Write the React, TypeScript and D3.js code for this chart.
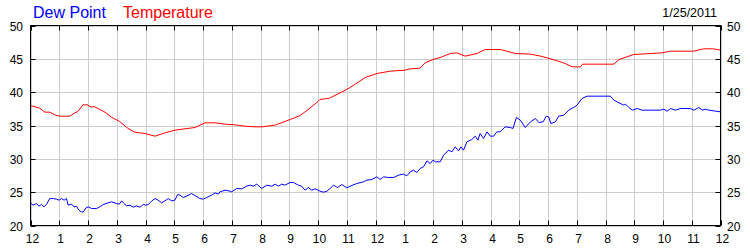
import React from "react";
import * as d3 from "d3";

const hourLabels = ["12","1","2","3","4","5","6","7","8","9","10","11","12","1","2","3","4","5","6","7","8","9","10","11","12"];
const yTicks = [20, 25, 30, 35, 40, 45, 50];

const tempHours = [0,0.32,0.5,0.67,0.85,1.02,1.37,1.54,1.65,1.82,2.0,2.06,2.24,2.59,2.83,3.1,3.38,3.62,3.98,4.33,4.68,5.03,5.37,5.72,6.07,6.42,6.77,7.11,7.46,7.81,8.05,8.5,8.85,9.03,9.38,9.72,10.0,10.07,10.4,11.0,11.3,11.64,12.05,12.51,13.03,13.2,13.55,13.73,14.0,14.25,14.6,14.83,15.12,15.53,15.82,16.35,16.86,17.4,17.75,18.25,18.6,18.84,19.13,19.2,20.29,20.47,20.98,21.97,22.26,23.07,23.42,23.76,24];
const tempValues = [38.0,37.6,37.0,37.0,36.6,36.4,36.4,36.9,37.1,38.1,38.1,37.8,37.8,37.0,36.2,35.6,34.6,34.0,33.8,33.4,33.9,34.3,34.5,34.7,35.4,35.4,35.2,35.1,34.9,34.8,34.8,35.05,35.6,35.9,36.5,37.6,38.6,38.9,39.1,40.4,41.2,42.2,42.8,43.15,43.3,43.5,43.6,44.4,44.9,45.2,45.8,45.9,45.4,45.8,46.4,46.4,45.8,45.7,45.4,44.8,44.3,43.8,43.8,44.2,44.2,44.9,45.65,45.9,46.15,46.15,46.5,46.5,46.3];

const dewHours = [0.00,0.09,0.21,0.29,0.38,0.47,0.56,0.67,0.79,0.90,1.00,1.08,1.17,1.25,1.31,1.43,1.51,1.60,1.68,1.77,1.83,1.93,2.01,2.12,2.30,2.41,2.53,2.70,2.82,2.99,3.09,3.17,3.25,3.34,3.46,3.57,3.69,3.81,3.92,4.01,4.10,4.21,4.33,4.44,4.56,4.68,4.79,4.91,5.02,5.12,5.20,5.31,5.43,5.60,5.72,5.89,6.01,6.13,6.30,6.42,6.53,6.59,6.77,6.94,7.00,7.17,7.35,7.52,7.64,7.75,7.87,8.04,8.22,8.39,8.51,8.62,8.74,8.85,9.03,9.14,9.32,9.43,9.55,9.67,9.78,9.90,10.07,10.19,10.31,10.42,10.54,10.68,10.83,11.00,11.12,11.35,11.58,11.70,11.87,12.05,12.16,12.28,12.45,12.63,12.80,12.97,13.09,13.21,13.32,13.44,13.55,13.67,13.79,13.90,14.00,14.08,14.25,14.37,14.54,14.66,14.77,14.89,14.97,15.06,15.18,15.35,15.47,15.56,15.64,15.76,15.88,15.99,16.11,16.22,16.34,16.51,16.69,16.78,16.90,17.04,17.21,17.39,17.56,17.68,17.83,17.94,18.02,18.10,18.26,18.37,18.55,18.72,18.89,19.01,19.18,19.36,19.71,20.17,20.29,20.47,20.64,20.70,20.81,20.93,21.10,21.27,21.56,21.91,22.03,22.14,22.26,22.43,22.61,22.96,23.07,23.25,23.36,23.48,23.59,24.00];
const dewValues = [23.4,23.05,23.3,22.9,23.15,22.8,23.2,24.05,24.05,23.95,23.8,24.05,23.8,24.05,23.05,23.2,22.8,22.9,22.3,22.05,22.0,22.65,22.8,22.55,22.55,22.8,23.15,23.4,23.55,23.3,23.2,23.7,23.3,22.95,23.05,22.75,22.95,22.75,23.15,23.05,23.15,23.65,24.05,23.8,23.4,23.7,24.05,23.7,23.8,24.65,24.55,24.2,24.4,24.8,24.5,24.05,23.95,24.2,24.55,24.9,24.7,25.05,25.3,25.15,25.05,25.55,25.5,25.9,26.05,25.9,26.2,25.55,26.05,25.9,26.2,25.9,26.2,26.05,26.45,26.45,26.05,25.9,25.3,25.7,25.3,25.5,25.15,25.0,25.15,25.55,26.05,25.7,26.15,25.65,25.9,26.3,26.55,26.8,26.9,27.3,26.9,27.3,27.2,27.2,27.55,27.7,27.45,28.05,28.3,27.95,28.55,28.8,29.7,29.3,29.8,29.55,29.55,30.55,31.3,31.05,31.8,31.2,31.8,31.3,32.55,32.9,33.4,32.8,33.8,33.05,34.05,33.4,33.4,34.05,34.05,34.8,34.7,34.55,36.2,35.8,34.7,35.55,36.05,35.45,35.55,36.4,36.3,35.3,35.55,36.4,36.55,37.3,37.7,38.05,39.05,39.4,39.4,39.4,38.8,38.4,38.05,38.2,37.7,37.3,37.55,37.3,37.3,37.3,37.45,37.15,37.55,37.3,37.55,37.55,37.3,37.7,37.3,37.45,37.3,37.05];

const W = 750, H = 250;
const X0 = 30.5, X1 = 720.5, Y0 = 25.5, Y1 = 225.5;
const FONT = "Arial, 'Liberation Sans', sans-serif";

export default function App() {
  const x = d3.scaleLinear().domain([0, 24]).range([X0, X1]);
  const y = d3.scaleLinear().domain([20, 50]).range([Y1, Y0]);
  const hourTicks = d3.range(0, 25);

  const tempLine = d3.line<number>().x((_, i) => x(tempHours[i])).y(d => y(d));
  const dewLine = d3.line<number>().x((_, i) => x(dewHours[i])).y(d => y(d));

  return (
    <svg width={W} height={H} style={{ position: "absolute", left: 0, top: 0, background: "#fff" }} fontFamily={FONT}>
      <rect x={0} y={0} width={W} height={H} fill="#fff" />
      {/* grid */}
      {hourTicks.map(h => (
        <line key={"gx" + h} x1={Math.round(x(h)) + 0.5} x2={Math.round(x(h)) + 0.5} y1={Y0} y2={Y1} stroke="#cccccc" strokeWidth={1} />
      ))}
      {yTicks.map(t => (
        <line key={"gy" + t} x1={X0} x2={X1} y1={Math.round(y(t)) + 0.5} y2={Math.round(y(t)) + 0.5} stroke="#cccccc" strokeWidth={1} />
      ))}
      {/* series */}
      <path d={tempLine(tempValues) || ""} fill="none" stroke="#ff0000" strokeWidth={1} />
      <path d={dewLine(dewValues) || ""} fill="none" stroke="#0000ff" strokeWidth={1} />
      {/* frame */}
      <rect x={X0} y={Y0} width={X1 - X0} height={Y1 - Y0} fill="none" stroke="#000" strokeWidth={1} />
      {/* ticks */}
      {hourTicks.map(h => {
        const px = Math.round(x(h)) + 0.5;
        return (
          <g key={"tx" + h}>
            <line x1={px} x2={px} y1={Y0} y2={Y0 + 5} stroke="#000" />
            <line x1={px} x2={px} y1={Y1} y2={Y1 - 5} stroke="#000" />
            <text x={px + 1} y={243} textAnchor="middle" fontSize={12} fill="#000">{hourLabels[h]}</text>
          </g>
        );
      })}
      {yTicks.map(t => {
        const py = Math.round(y(t)) + 0.5;
        return (
          <g key={"ty" + t}>
            <line x1={X0} x2={X0 + 5} y1={py} y2={py} stroke="#000" />
            <line x1={X1} x2={X1 - 5} y1={py} y2={py} stroke="#000" />
            <text x={23} y={py + 4.5} textAnchor="end" fontSize={12} fill="#000">{t}</text>
            <text x={727} y={py + 4.5} textAnchor="start" fontSize={12} fill="#000">{t}</text>
          </g>
        );
      })}
      {/* legend */}
      <text x={33} y={18} fontSize={16} fill="#0000ff">Dew Point</text>
      <text x={123} y={18} fontSize={16} fill="#ff0000">Temperature</text>
      <text x={717} y={17} textAnchor="end" fontSize={12.5} fill="#000">1/25/2011</text>
    </svg>
  );
}
